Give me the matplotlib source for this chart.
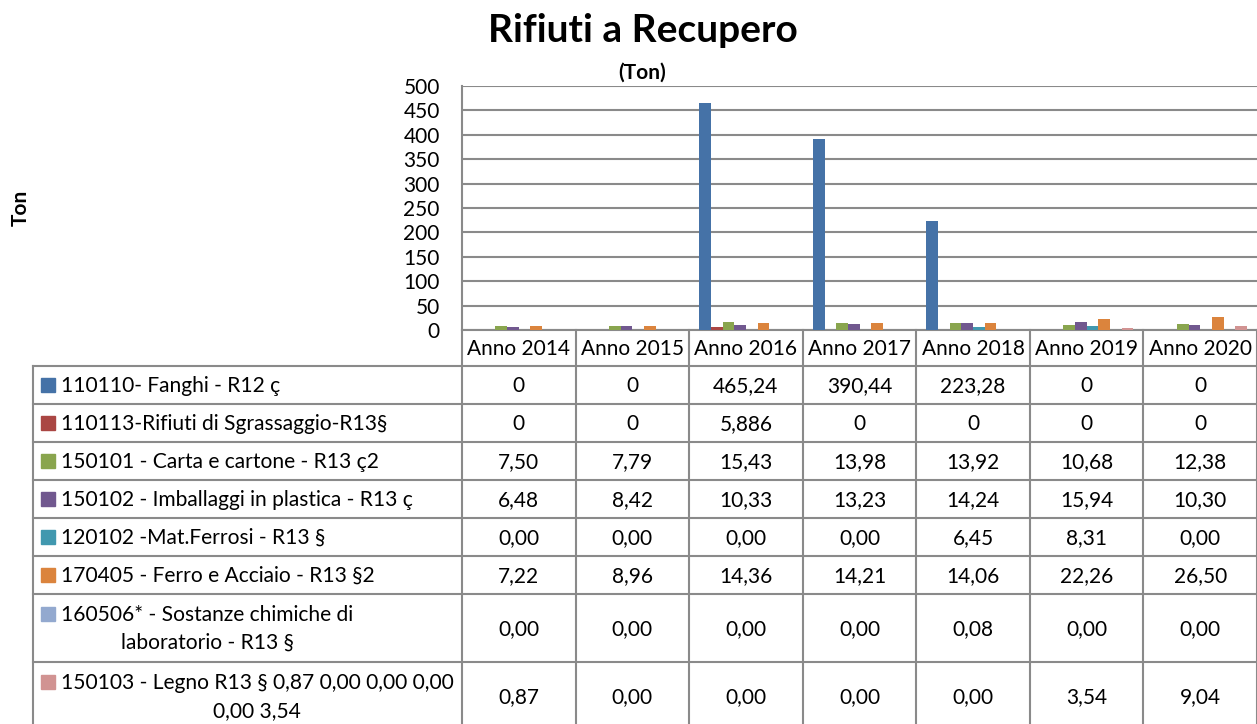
import matplotlib
matplotlib.use("Agg")
import matplotlib.pyplot as plt
import numpy as np

plt.rcParams['font.family'] = ['Lato', 'DejaVu Sans']

years = ['Anno 2014', 'Anno 2015', 'Anno 2016', 'Anno 2017', 'Anno 2018', 'Anno 2019', 'Anno 2020']
series = ['110110- Fanghi - R12 ç',
          '110113-Rifiuti di Sgrassaggio-R13§',
          '150101 - Carta e cartone - R13 ç2',
          '150102 - Imballaggi in plastica - R13 ç',
          '120102 -Mat.Ferrosi - R13 §',
          '170405 - Ferro e Acciaio - R13 §2',
          '160506* - Sostanze chimiche di\nlaboratorio - R13 §',
          '150103 - Legno R13 § 0,87 0,00 0,00 0,00\n0,00 3,54']
fanghi = [0, 0, 465.24, 390.44, 223.28, 0, 0]
sgrassaggio = [0, 0, 5.886, 0, 0, 0, 0]
carta = [7.50, 7.79, 15.43, 13.98, 13.92, 10.68, 12.38]
plastica = [6.48, 8.42, 10.33, 13.23, 14.24, 15.94, 10.30]
ferrosi = [0.00, 0.00, 0.00, 0.00, 6.45, 8.31, 0.00]
ferro = [7.22, 8.96, 14.36, 14.21, 14.06, 22.26, 26.50]
chimiche = [0.00, 0.00, 0.00, 0.00, 0.08, 0.00, 0.00]
legno = [0.87, 0.00, 0.00, 0.00, 0.00, 3.54, 9.04]
values = [fanghi, sgrassaggio, carta, plastica, ferrosi, ferro, chimiche, legno]
decimals = [None, None, 2, 2, 2, 2, 2, 2]
colors = ['#4572A7', '#AA4643', '#89A54E', '#71588F', '#4198AF', '#DB843D', '#93A9CF', '#D19392']
yticks = [0, 50, 100, 150, 200, 250, 300, 350, 400, 450, 500]

W, H = 1257, 724
grid_c = '#8a8a8a'
fig = plt.figure(figsize=(W / 100, H / 100), dpi=100)

def fx(px):
    return px / W

def fy(py):
    return 1 - py / H

# chart area
ax_l, ax_r, ax_t, ax_b = 462, 1257, 86, 330
ax = fig.add_axes([fx(ax_l), fy(ax_b), fx(ax_r - ax_l), fy(ax_t) - fy(ax_b)])
n = len(series)
w = 1 / (n + 1.75)
x = np.arange(len(years))
for i, (vals, c) in enumerate(zip(values, colors)):
    ax.bar(x + (i - (n - 1) / 2) * w, vals, w, color=c, zorder=3)
ax.set_xlim(-0.5, len(years) - 0.5)
ax.set_ylim(0, 500)
ax.set_yticks(yticks)
ax.set_yticklabels([str(t) for t in yticks], fontsize=15)
ax.tick_params(axis='y', length=0, pad=16)
ax.set_xticks([])
ax.yaxis.grid(True, color=grid_c, linewidth=1.5, zorder=0)
for s in ['top', 'right']:
    ax.spines[s].set_visible(False)
for s in ['left', 'bottom']:
    ax.spines[s].set_color(grid_c)
    ax.spines[s].set_linewidth(1.5)

fig.text(fx(643), fy(31), 'Rifiuti a Recupero', fontsize=28, fontweight='bold', ha='center', va='center')
fig.text(fx(642), fy(73), '(Ton)', fontsize=15, fontweight='bold', ha='center', va='center')
fig.text(fx(21), fy(208), 'Ton', fontsize=15, fontweight='bold', rotation=90, ha='center', va='center')

# data table below the chart
tab = fig.add_axes([0, 0, 1, 1])
tab.set_xlim(0, W)
tab.set_ylim(H, 0)
tab.axis('off')
col_w = (ax_r - ax_l) / len(years)
col_edges = [ax_l + k * col_w for k in range(len(years) + 1)]
row_edges = [366, 404, 442, 480, 518, 556, 594, 662, 730]
lw = 1.5
for xe in col_edges:
    tab.plot([xe, xe], [ax_b, H], color=grid_c, lw=lw)
tab.plot([33, 33], [row_edges[0], H], color=grid_c, lw=lw)
for ye in row_edges[:-1]:
    tab.plot([33, W], [ye, ye], color=grid_c, lw=lw)

for k, yr in enumerate(years):
    tab.text(col_edges[k] + col_w / 2, (ax_b + row_edges[0]) / 2 + 1, yr, fontsize=15, ha='center', va='center')

def fmt(v, d):
    if d is None:
        s = f'{v:g}'
    else:
        s = f'{v:.{d}f}'
    return s.replace('.', ',')

for r, (name, vals, d, c) in enumerate(zip(series, values, decimals, colors)):
    y0, y1 = row_edges[r], row_edges[r + 1]
    yc = (y0 + y1) / 2 + 1
    nlines = name.count('\n') + 1
    first = yc - (nlines - 1) * 14.5
    tab.add_patch(plt.Rectangle((41, first - 8), 14, 14, color=c))
    tab.text(61, yc, name, fontsize=15.1, ha='left', va='center', multialignment='center', linespacing=1.5)
    for k, v in enumerate(vals):
        tab.text(col_edges[k] + col_w / 2, yc, fmt(v, d), fontsize=15, ha='center', va='center')

fig.savefig('out.png', dpi=100)
